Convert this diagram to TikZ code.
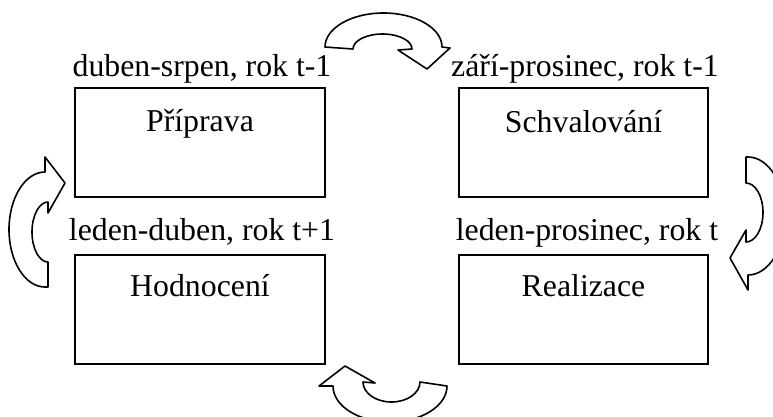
\documentclass[tikz,border=0pt]{standalone}
\usepackage{fontspec}
\setmainfont{Liberation Serif}
\begin{document}
\begin{tikzpicture}[x=1pt,y=1pt,
  phasebox/.style={draw=black,line width=2pt,minimum width=250pt,minimum height=109pt,inner sep=0pt},
  boxtext/.style={font=\fontsize{31.8}{36}\selectfont,inner sep=0pt,anchor=base},
  cyclearrow/.style={draw=black,fill=white,line width=1.6pt,line join=round}]
\useasboundingbox (0,0) rectangle (773,-416);
\clip (0,0) rectangle (773,-416);
\fill[white] (0,0) rectangle (773,-416);

% boxes
\node[phasebox] (prip) at (200,-142.5) {};
\node[phasebox,minimum width=249pt] (schv) at (583.5,-142.5) {};
\node[phasebox] (hodn) at (200,-309) {};
\node[phasebox,minimum width=249pt] (real) at (583.5,-309) {};

% texts inside boxes
\node[boxtext] (tprip) at ([yshift=-44pt]prip.north) {Příprava};
\node[boxtext] (tschv) at ([yshift=-45pt]schv.north) {Schvalování};
\node[boxtext] (thodn) at ([yshift=-43pt]hodn.north) {Hodnocení};
\node[boxtext] (treal) at ([yshift=-43pt]real.north) {Realizace};

% period labels
\node[boxtext] (lprip) at ([xshift=2pt,yshift=11pt]prip.north) {duben-srpen, rok t-1};
\node[boxtext] (lschv) at ([xshift=1.5pt,yshift=11pt]schv.north) {září-prosinec, rok t-1};
\node[boxtext] (lhodn) at ([xshift=2pt,yshift=13pt]hodn.north) {leden-duben, rok t+1};
\node[boxtext] (lreal) at ([xshift=3.5pt,yshift=13pt]real.north) {leden-prosinec, rok t};

% top curved arrow (Příprava -> Schvalování)
\path[cyclearrow] (325,-47) arc[start angle=180,end angle=0,x radius=58.5,y radius=34]
  -- (450,-48) -- (427,-69) -- (398,-50) -- (412,-49)
  arc[start angle=0,end angle=180,x radius=29.5,y radius=15]
  -- cycle;

% right curved arrow (Schvalování -> Realizace)
\path[cyclearrow] (746,-157) -- (746,-183)
  arc[start angle=90,end angle=-90,x radius=17,y radius=29.5]
  -- (746,-230) -- (730,-258) -- (748,-290) -- (748,-275)
  arc[start angle=-90,end angle=90,x radius=37,y radius=59]
  -- cycle;

% bottom curved arrow (Realizace -> Hodnocení)
\path[cyclearrow] (345,-366) -- (319,-386) -- (333,-386)
  arc[start angle=180,end angle=360,x radius=57,y radius=36]
  -- (420,-382)
  arc[start angle=0,end angle=-180,x radius=28.5,y radius=20]
  -- (375,-383) -- cycle;

% left curved arrow (Hodnocení -> Příprava)
\path[cyclearrow] (48,-287) -- (48,-262)
  arc[start angle=270,end angle=90,x radius=16,y radius=30]
  -- (48,-213) -- (65,-183) -- (45,-157) -- (45,-172)
  arc[start angle=90,end angle=270,x radius=36,y radius=57.5]
  -- cycle;
\end{tikzpicture}
\end{document}
